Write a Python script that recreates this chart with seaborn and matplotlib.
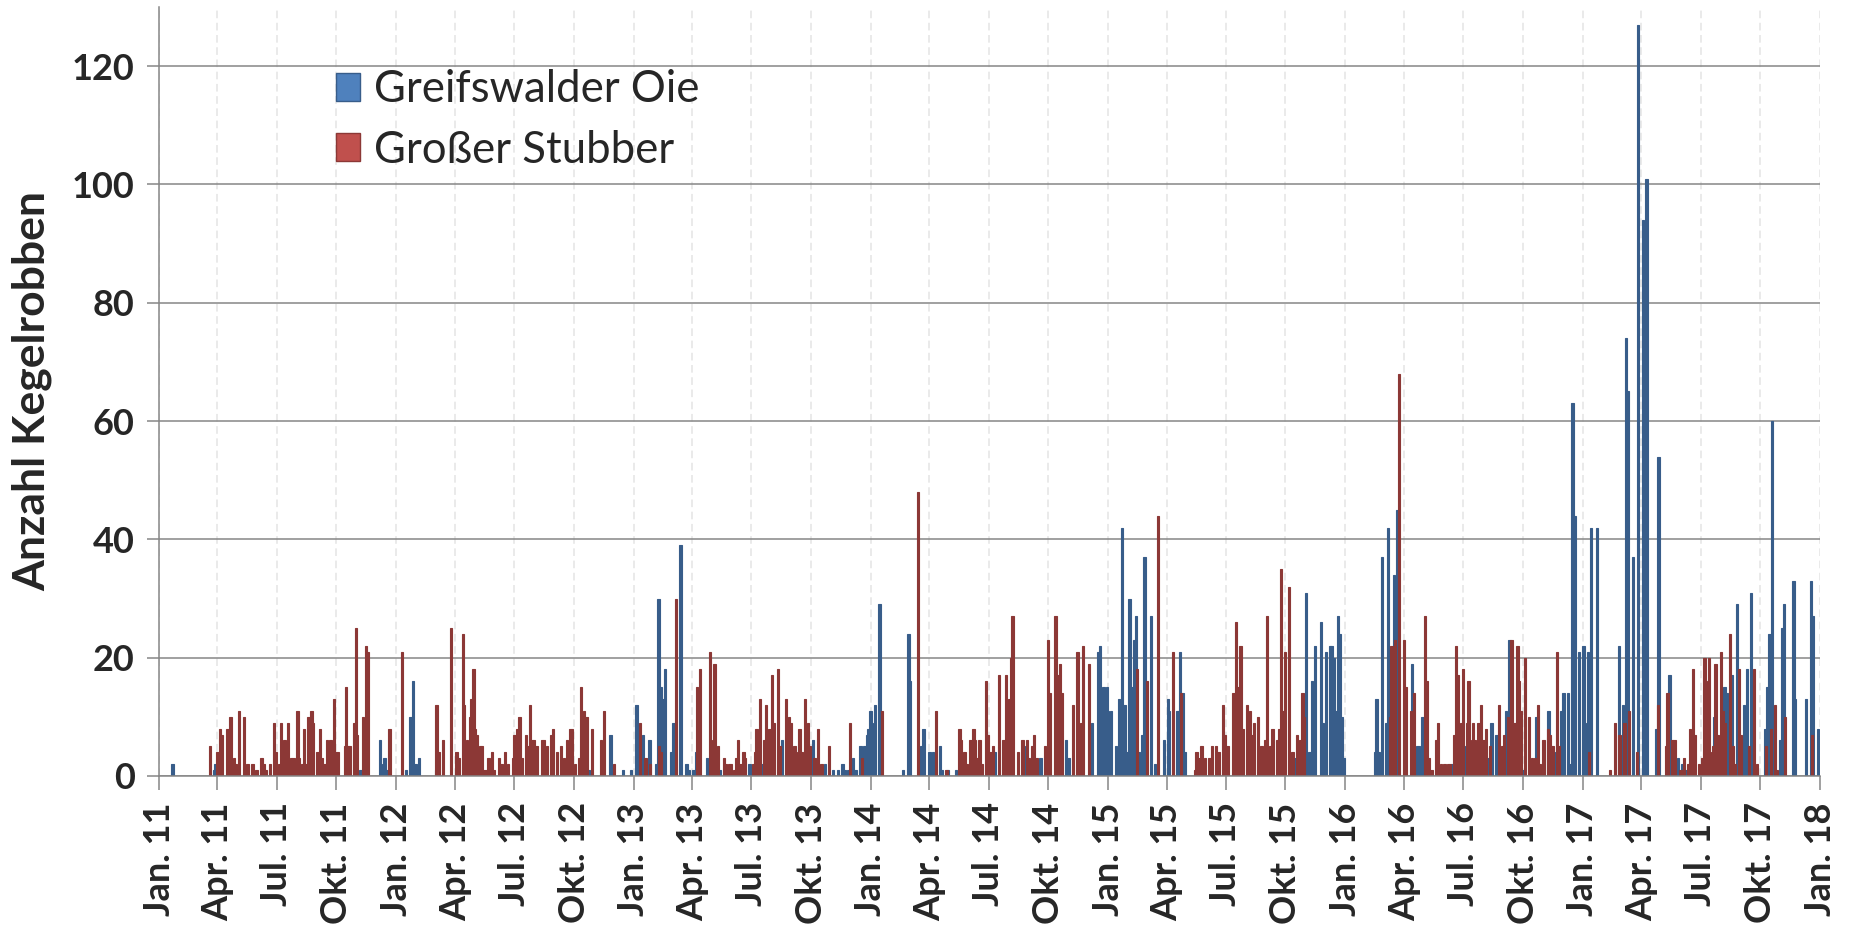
import numpy as np
import pandas as pd
import matplotlib
matplotlib.use("Agg")
import matplotlib.pyplot as plt
from matplotlib.patches import Patch
import seaborn as sns

# Survey counts, x = days since 1 Jan 2011
START = "2011-01-01"
END = "2018-01-01"

gio_day = [21, 85, 87, 310, 340, 345, 347, 350, 380, 387, 391, 395, 400, 426, 505, 662, 682, 695,
           714, 727, 735, 745, 755, 766, 769, 772, 775, 779, 789, 792, 803, 812, 816, 823, 827, 844,
           864, 909, 928, 959, 976, 1007, 1025, 1038, 1045, 1052, 1055, 1061, 1068, 1072, 1080, 1086,
           1090, 1092, 1095, 1098, 1102, 1109, 1145, 1154, 1156, 1174, 1177, 1186, 1191, 1202, 1205,
           1214, 1227, 1287, 1332, 1357, 1396, 1400, 1436, 1446, 1449, 1454, 1459, 1461, 1465, 1473,
           1478, 1482, 1486, 1490, 1494, 1497, 1501, 1504, 1509, 1513, 1517, 1527, 1533, 1547, 1553,
           1555, 1567, 1569, 1572, 1576, 1579, 1749, 1766, 1771, 1775, 1779, 1789, 1791, 1796, 1803,
           1805, 1809, 1811, 1815, 1818, 1821, 1824, 1872, 1874, 1878, 1883, 1889, 1892, 1901, 1906,
           1929, 1937, 1940, 1945, 1991, 2009, 2046, 2051, 2059, 2061, 2074, 2079, 2088, 2100, 2120,
           2139, 2150, 2158, 2162, 2169, 2171, 2176, 2179, 2186, 2193, 2198, 2200, 2204, 2214, 2247,
           2254, 2258, 2261, 2269, 2277, 2284, 2290, 2304, 2308, 2325, 2338, 2345, 2351, 2394, 2410,
           2413, 2421, 2429, 2440, 2444, 2451, 2472, 2476, 2479, 2483, 2495, 2499, 2501, 2516, 2518,
           2535, 2543, 2546, 2554]
gio_count = [2, 1, 2, 1, 6, 2, 3, 1, 1, 10, 16, 2, 3, 1, 1, 1, 2, 7,
             1, 1, 12, 7, 6, 2, 30, 15, 13, 18, 4, 9, 39, 2, 1, 1, 4, 3,
             1, 2, 2, 6, 4, 6, 2, 1, 1, 2, 1, 1, 3, 1, 5, 5,
             7, 8, 11, 9, 12, 29, 1, 24, 16, 5, 8, 4, 4, 5, 1,
             1, 1, 4, 5, 3, 6, 3, 9, 21, 22, 15, 15, 11, 11, 5,
             13, 42, 12, 4, 30, 15, 23, 27, 4, 7, 37, 27, 2, 6, 13,
             11, 11, 11, 21, 14, 4, 3, 31, 4, 16, 22, 26, 9, 21, 22,
             22, 20, 11, 27, 24, 10, 3, 4, 13, 4, 37, 9, 42, 34, 45,
             19, 5, 5, 10, 2, 5, 3, 9, 7, 6, 11, 23, 9, 1, 10,
             11, 4, 11, 14, 14, 2, 63, 44, 21, 22, 9, 21, 42, 42, 22,
             12, 74, 65, 37, 127, 94, 101, 8, 54, 17, 3, 2, 1, 10, 15,
             14, 17, 29, 12, 18, 31, 8, 15, 24, 60, 6, 25, 29, 33, 13,
             13, 33, 27, 8]

stub_day = [79, 90, 94, 97, 105, 108, 110, 115, 118, 123, 131, 136, 144, 150, 158, 162, 165, 171,
            177, 180, 185, 188, 191, 193, 199, 203, 207, 213, 215, 221, 223, 226, 230, 235, 237, 244,
            248, 251, 255, 259, 264, 269, 272, 276, 286, 288, 291, 293, 301, 303, 305, 314, 319, 321,
            355, 374, 427, 431, 437, 449, 458, 461, 468, 470, 474, 479, 481, 484, 486, 490, 494, 497,
            501, 507, 509, 513, 516, 523, 527, 533, 537, 545, 547, 551, 555, 559, 565, 567, 571, 574,
            577, 581, 590, 593, 597, 603, 607, 613, 619, 623, 628, 633, 636, 640, 647, 650, 654, 658,
            667, 680, 685, 700, 740, 749, 756, 770, 773, 796, 828, 833, 848, 853, 855, 860, 870, 873,
            877, 880, 885, 889, 891, 895, 900, 902, 914, 917, 920, 925, 931, 934, 937, 940, 944, 947,
            953, 956, 965, 970, 972, 978, 981, 986, 989, 994, 999, 1002, 1009, 1014, 1020, 1031, 1064,
            1082, 1113, 1168, 1196, 1212, 1232, 1235, 1240, 1244, 1249, 1254, 1256, 1260, 1263, 1267,
            1273, 1276, 1280, 1284, 1293, 1300, 1304, 1308, 1310, 1312, 1314, 1322, 1329, 1336, 1339,
            1344, 1347, 1351, 1364, 1368, 1371, 1380, 1384, 1387, 1390, 1407, 1414, 1419, 1422, 1432,
            1505, 1521, 1538, 1561, 1573, 1595, 1597, 1601, 1605, 1610, 1617, 1621, 1627, 1631, 1638,
            1641, 1645, 1654, 1658, 1660, 1665, 1668, 1675, 1679, 1683, 1686, 1692, 1697, 1703, 1706,
            1710, 1714, 1721, 1724, 1727, 1730, 1733, 1739, 1741, 1745, 1752, 1757, 1760, 1763, 1895,
            1897, 1903, 1909, 1917, 1919, 1927, 1932, 1949, 1952, 1955, 1959, 1966, 1969, 1973, 1979,
            1984, 1987, 1994, 1997, 2000, 2004, 2007, 2013, 2016, 2021, 2023, 2026, 2031, 2035, 2039,
            2043, 2049, 2063, 2067, 2070, 2077, 2082, 2086, 2091, 2094, 2096, 2103, 2109, 2114, 2118,
            2123, 2126, 2131, 2138, 2141, 2145, 2152, 2155, 2201, 2234, 2241, 2248, 2256, 2263, 2275,
            2307, 2320, 2322, 2329, 2333, 2342, 2348, 2354, 2357, 2361, 2364, 2371, 2375, 2379, 2381,
            2386, 2388, 2392, 2396, 2400, 2404, 2407, 2411, 2418, 2423, 2426, 2432, 2435, 2448, 2455,
            2460, 2474, 2481, 2488, 2490, 2503, 2545]
stub_count = [5, 4, 8, 7, 8, 8, 10, 3, 2, 11, 10, 2, 2, 1, 3, 2, 1, 2,
              9, 4, 2, 9, 4, 6, 9, 3, 3, 11, 3, 2, 8, 2, 10, 11, 9, 4,
              8, 3, 2, 6, 6, 13, 4, 4, 5, 15, 5, 5, 9, 25, 7, 10, 22, 21,
              8, 21, 12, 4, 6, 25, 4, 3, 24, 12, 6, 10, 13, 18, 8, 7, 5, 5,
              1, 3, 1, 4, 1, 3, 2, 4, 2, 3, 7, 8, 10, 3, 7, 5, 12, 6,
              6, 5, 6, 6, 5, 7, 8, 4, 5, 3, 6, 8, 8, 2, 3, 15, 11, 10,
              8, 6, 11, 2, 9, 3, 2, 5, 4, 30, 15, 18, 21, 6, 19, 5, 3, 2,
              2, 2, 1, 3, 6, 2, 4, 3, 2, 4, 8, 13, 6, 12, 7, 8, 17, 9,
              18, 5, 13, 10, 9, 5, 4, 8, 4, 13, 9, 5, 3, 8, 2, 5, 9,
              3, 11, 48, 11, 1, 8, 6, 4, 2, 6, 8, 6, 3, 6, 2,
              16, 7, 4, 5, 17, 6, 17, 13, 4, 20, 27, 4, 6, 6, 3,
              5, 7, 3, 5, 23, 14, 27, 17, 19, 14, 12, 21, 9, 22, 19,
              18, 16, 44, 21, 14, 1, 4, 3, 5, 3, 3, 5, 5, 4, 12,
              7, 5, 14, 26, 15, 22, 8, 12, 11, 7, 9, 10, 5, 6, 27,
              5, 8, 6, 8, 35, 11, 21, 32, 3, 4, 7, 6, 14, 10, 10,
              22, 23, 68, 23, 15, 11, 14, 27, 16, 3, 1, 6, 9, 2, 2,
              2, 2, 7, 22, 17, 9, 18, 9, 16, 6, 9, 6, 9, 12, 6,
              8, 5, 12, 5, 7, 10, 23, 9, 22, 16, 11, 20, 10, 3, 3,
              12, 2, 6, 8, 7, 5, 21, 5, 4, 1, 9, 7, 9, 11, 4,
              12, 5, 14, 6, 6, 1, 3, 2, 8, 18, 7, 2, 3, 20, 16,
              20, 4, 5, 19, 7, 21, 11, 9, 24, 5, 2, 18, 7, 5, 18,
              2, 5, 8, 12, 1, 10, 7]

series_names = ["Greifswalder Oie", "Großer Stubber"]
face_colors = ["#4F81BD", "#C0504D"]
edge_colors = ["#385D8A", "#8C3836"]
month_names = {1: "Jan.", 4: "Apr.", 7: "Jul.", 10: "Okt."}
y_ticks = [0, 20, 40, 60, 80, 100, 120]

sns.set_theme(style="white")
plt.rcParams["font.family"] = ["Lato", "DejaVu Sans"]

fig = plt.figure(figsize=(18.51, 9.34), dpi=100)
ax = fig.add_axes([0.0859, 0.1692, 0.8974, 0.8233])

bar_days = 3.6
for days, counts, fc, ec in zip([gio_day, stub_day], [gio_count, stub_count], face_colors, edge_colors):
    df = pd.DataFrame({"day": days, "count": counts})
    step = np.diff(np.unique(df["day"])).min()
    sns.barplot(data=df, x="day", y="count", native_scale=True, errorbar=None,
                width=bar_days / step, color=ec, saturation=1, edgecolor=ec,
                linewidth=0.8, ax=ax)

# quarterly ticks
start = pd.Timestamp(START)
quarters = pd.date_range(START, END, freq="QS")
q_pos = [(q - start).days for q in quarters]
q_lab = [f"{month_names[q.month]} {q.year % 100:02d}" for q in quarters]

ax.set_xlim(0, (pd.Timestamp(END) - start).days)
ax.set_ylim(0, 130)
ax.set_xticks(q_pos)
ax.set_xticklabels(q_lab, rotation=90, fontsize=26, fontweight="bold")
ax.set_yticks(y_ticks)
ax.set_yticklabels([str(v) for v in y_ticks], fontsize=26, fontweight="bold")
ax.tick_params(axis="x", direction="out", length=10, width=1.1, color="#868686", pad=9)
ax.tick_params(axis="y", direction="out", length=8.5, width=1.1, color="#868686", pad=9)
ax.xaxis.set_ticks_position("bottom")
ax.yaxis.set_ticks_position("left")

ax.set_axisbelow(True)
ax.yaxis.grid(True, color="#868686", linewidth=1.1)
ax.xaxis.grid(True, color="#E4E4E4", linewidth=1.1, linestyle=(0, (5, 3)))

for s in ["top", "right"]:
    ax.spines[s].set_visible(False)
for s in ["left", "bottom"]:
    ax.spines[s].set_color("#868686")
    ax.spines[s].set_linewidth(1.1)

ax.set_xlabel("")
ax.set_ylabel("Anzahl Kegelrobben", fontsize=32, fontweight="bold")
ax.yaxis.set_label_coords(-0.064, 0.5)

handles = [Patch(facecolor=fc, edgecolor=ec, linewidth=1.0, label=n)
           for n, fc, ec in zip(series_names, face_colors, edge_colors)]
fig.legend(handles=handles, loc="upper left", bbox_to_anchor=(0.1815, 0.9256),
           frameon=False, fontsize=31.5, handlelength=0.55, handleheight=0.6,
           handletextpad=0.32, labelspacing=0.44, borderpad=0, borderaxespad=0)

fig.savefig("out.png", dpi=100)
